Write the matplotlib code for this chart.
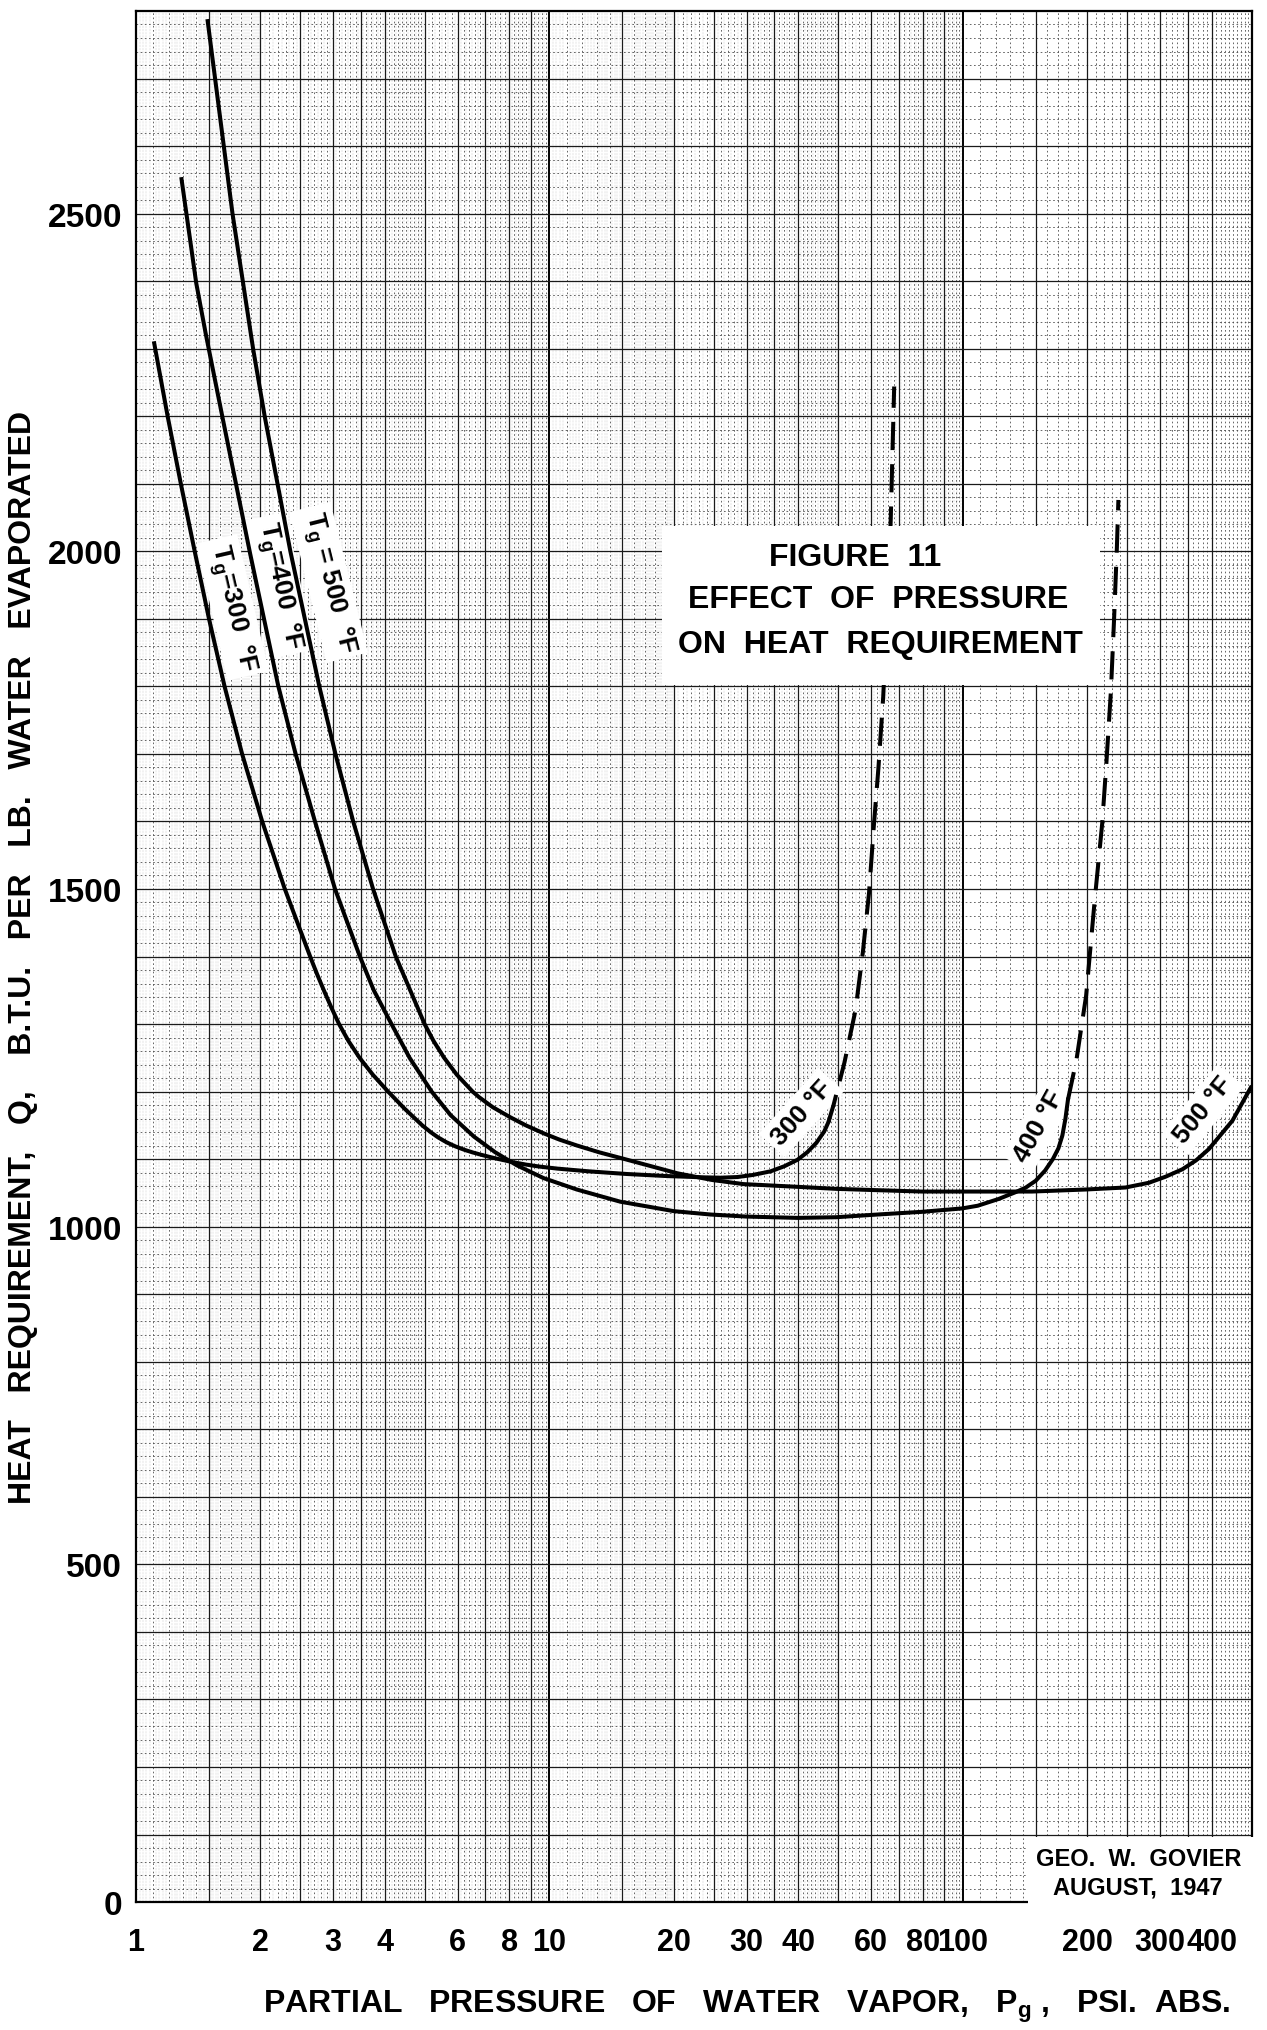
import numpy as np
import matplotlib
matplotlib.use('Agg')
import matplotlib.pyplot as plt
from matplotlib import font_manager
from matplotlib.patches import Rectangle

# narrow lettering if the system has it
names = {f.name for f in font_manager.fontManager.ttflist}
LETTERING = 'Liberation Sans Narrow' if 'Liberation Sans Narrow' in names else 'Liberation Sans'
plt.rcParams['font.family'] = [LETTERING, 'DejaVu Sans']
plt.rcParams['font.weight'] = 'bold'
plt.rcParams['axes.labelweight'] = 'bold'
plt.rcParams['mathtext.fontset'] = 'custom'
plt.rcParams['mathtext.rm'] = LETTERING + ':bold'
plt.rcParams['mathtext.it'] = LETTERING + ':bold'
plt.rcParams['mathtext.bf'] = LETTERING + ':bold'

# heat requirement Q (BTU/lb water) vs partial pressure Pg (psia)
p300 = [1.107, 1.193, 1.284, 1.387, 1.502, 1.638, 1.806, 2.020, 2.291, 2.638, 2.737,
        2.847, 2.966, 3.099, 3.265, 3.474, 3.740, 4.072, 4.459, 4.925, 5.16, 5.385,
        5.635, 5.915, 6.215, 6.515, 6.88, 7.42, 8.08, 8.76, 9.45, 10.44, 12.4, 15.37,
        19.1, 23.7, 26.0, 28.5, 31.0, 34.3, 37.0, 39.8, 42.0, 44.2, 46.2, 47.3]
q300 = [2308, 2200, 2100, 2000, 1900, 1800, 1700, 1600, 1500, 1400, 1375,
        1350, 1325, 1300, 1275, 1250, 1225, 1200, 1175, 1150, 1140, 1132,
        1125, 1119, 1114, 1110, 1106, 1101, 1096, 1092, 1089, 1086, 1082, 1078,
        1075, 1073, 1072.5, 1073.5, 1076.5, 1082, 1089.5, 1099, 1110, 1124, 1141, 1155]
p300_dash = [47.3, 48.65, 51.7, 55.0, 57.3, 59.3, 60.85, 62.5, 64.15, 65.8, 66.9, 67.6, 68.2]
q300_dash = [1155, 1180, 1243, 1321, 1407, 1495, 1591, 1681, 1784, 1932, 2047, 2153, 2244]

p400 = [1.289, 1.399, 1.475, 1.622, 1.888, 2.21, 2.433, 2.71, 3.03, 3.48, 3.76, 4.15,
        4.59, 5.19, 5.77, 6.58, 7.4, 8.33, 9.67, 11.65, 14.83, 19.98, 24.5, 29.8, 39.8,
        49.4, 62.2, 79.6, 99.5, 108.6, 122, 134, 142, 150, 158, 165, 170.2, 174, 177, 179.5]
q400 = [2551, 2397, 2322, 2196, 1997, 1800, 1700, 1600, 1500, 1400, 1350, 1300,
        1250, 1200, 1165, 1133, 1110, 1091, 1072, 1055, 1037, 1023, 1018, 1015, 1013,
        1014, 1018, 1022, 1027, 1031, 1041, 1051, 1058, 1068, 1083, 1100, 1116, 1135, 1160, 1188]
p400_dash = [179.5, 188.2, 198.6, 208.3, 217.2, 222.3, 228.0, 232.0, 235.7, 237.7]
q400_dash = [1188, 1247, 1342, 1483, 1597, 1686, 1793, 1898, 2005, 2076]

p500 = [1.491, 1.712, 1.920, 2.048, 2.363, 2.776, 3.037, 3.353, 3.745, 4.25, 4.99,
        5.244, 5.564, 5.97, 6.52, 6.75, 7.29, 8.04, 8.77, 9.70, 10.56, 11.68, 13.21,
        15.01, 17.5, 20.4, 24.8, 29.5, 39.8, 49.4, 62.2, 79.6, 101.3, 146.9, 197.8,
        247.3, 281.7, 309.2, 339.5, 366, 393.6, 448.6, 496.9]
q500 = [2785, 2500, 2300, 2200, 2000, 1800, 1700, 1600, 1500, 1400, 1300,
        1275, 1250, 1225, 1200, 1192, 1177, 1162, 1150, 1138, 1129, 1120, 1110,
        1101, 1090, 1079, 1069, 1063, 1059, 1056, 1054, 1052, 1052, 1052, 1055,
        1058, 1065, 1074, 1085, 1098, 1115, 1157, 1206]

x_ticks = [1, 2, 3, 4, 6, 8, 10, 20, 30, 40, 60, 80, 100, 200, 300, 400]
x_ticklabels = ['1', '2', '3', '4', '6', '8', '10', '20', '30', '40', '60', '80', '100',
                '200', '300', '400']
y_ticks = [0, 500, 1000, 1500, 2000, 2500]

XMIN, XMAX = 1, 500
YMIN, YMAX = 0, 2800

fig = plt.figure(figsize=(12.67, 20.31), dpi=100)
ax = fig.add_axes([0.1073, 0.0630, 0.8808, 0.9311])
ax.set_xscale('log')
ax.set_xlim(XMIN, XMAX)
ax.set_ylim(YMIN, YMAX)

# --- semi-log graph paper ruling ---
def in_range(vals):
    return [v for v in vals if XMIN < v < XMAX]

solid_m = [1, 1.5, 2, 2.5, 3, 3.5, 4, 5, 6, 7, 8, 9]
dot_m = [m for m in np.r_[np.arange(1.1, 5.0, 0.1), np.arange(5.2, 10.0, 0.2)]
         if not np.any(np.isclose(m, solid_m))]
fine_m = [m for m in np.r_[np.arange(1.02, 2.0, 0.02), np.arange(2.05, 5.0, 0.05),
                           np.arange(5.1, 10.0, 0.1)]
          if not np.any(np.isclose(m, solid_m)) and not np.any(np.isclose(m, dot_m))]

x_solid = in_range([m * d for d in (1, 10, 100) for m in solid_m if m != 1])
x_decade = in_range([10, 100])
x_dot = in_range([m * d for d in (1, 10, 100) for m in dot_m])
x_fine = in_range([m * d for d in (1, 10) for m in fine_m])

xt = ax.get_xaxis_transform()
yt = ax.get_yaxis_transform()
ax.vlines(x_fine, 0, 1, transform=xt, colors='0.6', lw=0.35, linestyles=(0, (1, 2)), zorder=1)
ax.vlines(x_dot, 0, 1, transform=xt, colors='0.3', lw=0.6, linestyles=(0, (2, 3)), zorder=1)
ax.vlines(x_solid, 0, 1, transform=xt, colors='0.1', lw=0.9, zorder=2)
ax.vlines(x_decade, 0, 1, transform=xt, colors='black', lw=1.4, zorder=2)

y_solid = np.arange(100, YMAX, 100)
y_dot = [v for v in np.arange(20, YMAX, 20) if v % 100]
ax.hlines(y_dot, 0, 1, transform=yt, colors='0.3', lw=0.6, linestyles=(0, (2, 3)), zorder=1)
ax.hlines(y_solid, 0, 1, transform=yt, colors='0.1', lw=0.9, zorder=2)

for s in ax.spines.values():
    s.set_linewidth(1.6)
    s.set_color('black')

# --- curves ---
LW = 2.9
for px, qy in ((p300, q300), (p400, q400), (p500, q500)):
    ax.plot(px, qy, color='black', lw=LW, zorder=5, solid_joinstyle='round')
ax.plot(p300_dash, q300_dash, color='black', lw=LW, dashes=(7, 3.5), zorder=5)
ax.plot(p400_dash, q400_dash, color='black', lw=LW, dashes=(7, 3.5), zorder=5)

blank = dict(boxstyle='square,pad=0.2', fc='white', ec='none')
curve_labels = [
    (1.711, 1917, 'T$_g$=300  °F', -77),
    (2.223, 1950, 'T$_g$=400  °F', -78),
    (2.924, 1954, 'T$_g$ = 500  °F', -76),
    (40.7, 1169, '300 °F', 48),
    (152.5, 1149, '400 °F', 61),
    (381, 1173, '500 °F', 51),
]
for x, y, s, rot in curve_labels:
    ax.text(x, y, s, rotation=rot, rotation_mode='anchor', ha='center', va='center',
            fontsize=19, zorder=4, bbox=blank)

# --- title panel ---
ax.add_patch(Rectangle((0.4713, 0.6436), 0.3925, 0.0841, transform=ax.transAxes,
                       fc='white', ec='none', zorder=6))
title_lines = [(0.6444, 0.7113, 'FIGURE  11'),
               (0.6654, 0.6888, 'EFFECT  OF  PRESSURE'),
               (0.6673, 0.6652, 'ON  HEAT  REQUIREMENT')]
for x, y, s in title_lines:
    ax.text(x, y, s, transform=ax.transAxes, ha='center', va='center',
            fontsize=23, zorder=7)

# --- signature block ---
ax.add_patch(Rectangle((0.7993, -0.0063), 0.215, 0.0407, transform=ax.transAxes,
                       fc='white', ec='none', zorder=8, clip_on=False))
ax.text(0.8981, 0.0231, 'GEO.  W.  GOVIER', transform=ax.transAxes, ha='center',
        va='center', fontsize=17, zorder=9)
ax.text(0.8981, 0.0078, 'AUGUST,  1947', transform=ax.transAxes, ha='center',
        va='center', fontsize=17, zorder=9)

# --- axes text ---
ax.minorticks_off()
ax.set_xticks(x_ticks)
ax.set_xticklabels(x_ticklabels)
ax.set_yticks(y_ticks)
ax.tick_params(axis='x', length=0, pad=18, labelsize=22)
ax.tick_params(axis='y', length=0, pad=10, labelsize=24)

ax.set_ylabel('HEAT   REQUIREMENT,   Q,    B.T.U.   PER   LB.   WATER   EVAPORATED',
              fontsize=23, fontweight='bold')
ax.yaxis.set_label_coords(-0.0878, 0.5)
ax.set_xlabel('PARTIAL   PRESSURE   OF   WATER   VAPOR,   P$_g$ ,   PSI.  ABS.',
              fontsize=23, fontweight='bold')
ax.xaxis.set_label_coords(0.5475, -0.0455)

fig.savefig('out.png', dpi=100, facecolor='white')
